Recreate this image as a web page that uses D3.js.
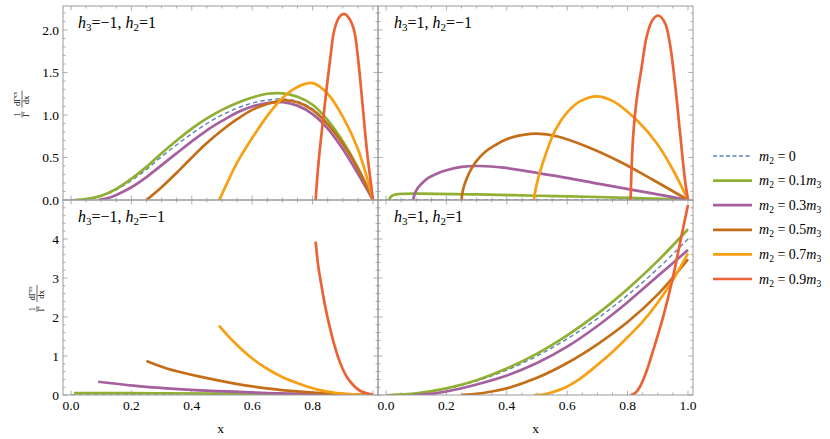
<!DOCTYPE html>
<html>
<head>
<meta charset="utf-8">
<script src="https://cdn.jsdelivr.net/npm/d3@7"></script>
<style>
  body { margin: 0; background: #fff; }
</style>
</head>
<body>
<script>
// ---- data ----
  var massLabels = ["0", "0.1", "0.3", "0.5", "0.7", "0.9"];
  var plotColors = ["#5E81B5", "#8FB032", "#A5609D", "#C56E1A", "#F89F13", "#EB6235"];
  var panelTitles = [["-1", "1"], ["1", "-1"], ["-1", "-1"], ["1", "1"]];
  var xTicks = [0, 0.2, 0.4, 0.6, 0.8, 1.0];
  var yTicksTop = [0, 0.5, 1, 1.5, 2];
  var yTicksBottom = [0, 1, 2, 3, 4];

  // h3=-1, h2=1
  var tl0 = [[0,0],[0.05,0.008],[0.1,0.045],[0.15,0.12],[0.2,0.23],[0.25,0.36],[0.3,0.51],[0.35,0.65],[0.4,0.78],[0.45,0.9],[0.5,1.0],[0.55,1.08],[0.6,1.14],[0.65,1.175],[0.7,1.19],[0.75,1.16],[0.8,1.07],[0.85,0.9],[0.9,0.66],[0.95,0.36],[1,0]];
  var tl1 = [[0.01,0],[0.05,0.01],[0.1,0.05],[0.15,0.13],[0.2,0.25],[0.25,0.39],[0.3,0.55],[0.35,0.7],[0.4,0.84],[0.45,0.96],[0.5,1.06],[0.55,1.14],[0.6,1.205],[0.65,1.25],[0.7,1.255],[0.75,1.215],[0.8,1.12],[0.85,0.94],[0.9,0.69],[0.95,0.38],[1,0]];
  var tl3 = [[0.09,0],[0.12,0.02],[0.15,0.06],[0.2,0.15],[0.25,0.27],[0.3,0.41],[0.35,0.55],[0.4,0.69],[0.45,0.82],[0.5,0.93],[0.55,1.03],[0.6,1.1],[0.65,1.14],[0.7,1.15],[0.75,1.11],[0.8,1.01],[0.85,0.84],[0.9,0.6],[0.95,0.31],[1,0]];
  var tl5 = [[0.25,0],[0.3,0.15],[0.35,0.32],[0.4,0.5],[0.45,0.67],[0.5,0.82],[0.55,0.95],[0.6,1.06],[0.65,1.13],[0.7,1.17],[0.75,1.15],[0.8,1.06],[0.85,0.89],[0.9,0.66],[0.95,0.37],[1,0]];
  var tl7 = [[0.49,0],[0.5,0.07],[0.55,0.44],[0.6,0.73],[0.65,0.99],[0.7,1.2],[0.75,1.33],[0.8,1.375],[0.85,1.25],[0.9,0.98],[0.95,0.6],[1,0]];
  var tl9 = [[0.81,0],[0.82,0.45],[0.835,0.95],[0.858,1.65],[0.872,2.0],[0.89,2.16],[0.905,2.19],[0.92,2.14],[0.937,2.0],[0.951,1.65],[0.966,1.1],[0.98,0.58],[1,0]];

  // h3=1, h2=-1
  var tr0 = [[0,0],[1,0]];
  var tr1 = [[0.01,0],[0.015,0.035],[0.025,0.06],[0.04,0.07],[0.1,0.075],[0.3,0.065],[0.5,0.05],[0.7,0.035],[0.85,0.02],[1,0]];
  var tr3 = [[0.09,0],[0.095,0.07],[0.105,0.14],[0.12,0.2],[0.14,0.26],[0.168,0.31],[0.2,0.35],[0.25,0.39],[0.311,0.4],[0.389,0.38],[0.499,0.32],[0.609,0.255],[0.72,0.18],[0.83,0.11],[0.94,0.04],[1,0]];
  var tr5 = [[0.25,0],[0.255,0.12],[0.267,0.25],[0.285,0.38],[0.3,0.46],[0.33,0.57],[0.355,0.63],[0.39,0.7],[0.42,0.74],[0.46,0.77],[0.499,0.78],[0.565,0.75],[0.664,0.63],[0.775,0.45],[0.885,0.235],[1,0]];
  var tr7 = [[0.49,0],[0.495,0.12],[0.51,0.33],[0.53,0.55],[0.56,0.82],[0.6,1.03],[0.642,1.16],[0.698,1.22],[0.753,1.16],[0.83,0.94],[0.896,0.67],[0.951,0.35],[1,0]];
  var tr9 = [[0.81,0],[0.813,0.35],[0.819,0.78],[0.83,1.18],[0.847,1.57],[0.863,1.92],[0.883,2.12],[0.902,2.17],[0.924,2.08],[0.94,1.84],[0.957,1.37],[0.974,0.78],[0.99,0.24],[1,0]];

  // h3=-1, h2=-1
  var bl0 = [[0,0],[1,0]];
  var bl1 = [[0.01,0.05],[0.3,0.045],[0.6,0.03],[0.9,0.01],[1,0]];
  var bl3 = [[0.09,0.34],[0.206,0.24],[0.317,0.17],[0.427,0.12],[0.538,0.085],[0.648,0.05],[0.758,0.03],[0.869,0.01],[1,0]];
  var bl5 = [[0.25,0.87],[0.317,0.68],[0.427,0.47],[0.538,0.3],[0.648,0.17],[0.758,0.085],[0.869,0.03],[1,0]];
  var bl7 = [[0.49,1.78],[0.538,1.37],[0.593,0.98],[0.648,0.68],[0.703,0.45],[0.758,0.28],[0.813,0.145],[0.869,0.06],[0.924,0.02],[1,0]];
  var bl9 = [[0.81,3.93],[0.819,3.29],[0.83,2.78],[0.841,2.3],[0.852,1.9],[0.869,1.37],[0.891,0.83],[0.913,0.47],[0.935,0.25],[0.957,0.11],[1,0]];

  // h3=1, h2=1
  var br0 = [[0,0],[0.1,0.04],[0.2,0.16],[0.3,0.36],[0.4,0.64],[0.5,1.0],[0.6,1.44],[0.7,1.96],[0.8,2.56],[0.9,3.24],[1,4.0]];
  var br1 = [[0.01,0],[0.1,0.045],[0.2,0.17],[0.3,0.38],[0.4,0.68],[0.5,1.06],[0.6,1.53],[0.7,2.08],[0.8,2.72],[0.9,3.44],[1,4.25]];
  var br3 = [[0.09,0],[0.15,0.03],[0.2,0.09],[0.3,0.27],[0.4,0.5],[0.5,0.82],[0.6,1.24],[0.7,1.77],[0.8,2.38],[0.9,3.05],[1,3.72]];
  var br5 = [[0.25,0],[0.3,0.03],[0.35,0.09],[0.4,0.17],[0.5,0.44],[0.6,0.82],[0.7,1.3],[0.8,1.87],[0.9,2.58],[1,3.48]];
  var br7 = [[0.49,0],[0.52,0.01],[0.55,0.07],[0.6,0.22],[0.65,0.46],[0.7,0.77],[0.75,1.1],[0.8,1.48],[0.85,1.88],[0.9,2.37],[0.95,2.95],[1,3.63]];
  var br9 = [[0.81,0],[0.825,0.05],[0.84,0.2],[0.86,0.55],[0.885,1.15],[0.918,2.01],[0.951,3.05],[0.975,3.95],[1,4.87]];
// --------------------------------------

// ---- layout ----
  var width_outer = 830;
  var height_outer = 439;
  var xDomain = [-0.0265, 1.0166];
  var panels = [
    {x0: 63,  y0: 6,   w: 315, h: 194, ymax: 2.282, series: [tl0, tl1, tl3, tl5, tl7, tl9], yTicks: yTicksTop, yMinor: 0.1, yFmt: d3.format(".1f"), left: true, bottom: false},
    {x0: 378, y0: 6,   w: 315, h: 194, ymax: 2.282, series: [tr0, tr1, tr3, tr5, tr7, tr9], yTicks: yTicksTop, yMinor: 0.1, yFmt: d3.format(".1f"), left: false, bottom: false},
    {x0: 63,  y0: 200, w: 315, h: 195, ymax: 5.0,   series: [bl0, bl1, bl3, bl5, bl7, bl9], yTicks: yTicksBottom, yMinor: 0.2, yFmt: d3.format("d"), left: true, bottom: true},
    {x0: 378, y0: 200, w: 315, h: 195, ymax: 5.0,   series: [br0, br1, br3, br5, br7, br9], yTicks: yTicksBottom, yMinor: 0.2, yFmt: d3.format("d"), left: false, bottom: true}
  ];
  var frameColor = "#9a9a9a";
  var lineWidth = 2.7;
// ----------------

// pick the first serif face that is really installed
function pickFont(cands) {
  var ctx = document.createElement("canvas").getContext("2d");
  var s = "mwiIl0.1234h=x";
  ctx.font = "40px monospace";
  var base = ctx.measureText(s).width;
  for (var i = 0; i < cands.length; i++) {
    ctx.font = "40px '" + cands[i] + "', monospace";
    if (Math.abs(ctx.measureText(s).width - base) > 0.5) return "'" + cands[i] + "'";
  }
  return "serif";
}
var serif = pickFont(["Liberation Serif", "Times New Roman", "Tinos", "DejaVu Serif", "Noto Serif"]) + ", serif";

var svg = d3.select("body").append("svg")
  .attr("width", width_outer)
  .attr("height", height_outer)
  .style("font-family", serif);

var defs = svg.append("defs");

panels.forEach(function(p, pi) {
  var x = d3.scaleLinear().domain(xDomain).range([p.x0, p.x0 + p.w]);
  var y = d3.scaleLinear().domain([0, p.ymax]).range([p.y0 + p.h, p.y0]);

  defs.append("clipPath").attr("id", "clip" + pi)
    .append("rect").attr("x", p.x0).attr("y", p.y0).attr("width", p.w).attr("height", p.h);

  var g = svg.append("g");

  // ticks on all four sides (inside)
  d3.range(0, 1.0001, 0.05).forEach(function(t) {
    var major = Math.abs(t / 0.2 - Math.round(t / 0.2)) < 1e-6;
    var len = major ? 4.5 : 2.5;
    g.append("line").attr("x1", x(t)).attr("x2", x(t))
      .attr("y1", p.y0 + p.h).attr("y2", p.y0 + p.h - len)
      .attr("stroke", frameColor).attr("stroke-width", 0.8);
    g.append("line").attr("x1", x(t)).attr("x2", x(t))
      .attr("y1", p.y0).attr("y2", p.y0 + len)
      .attr("stroke", frameColor).attr("stroke-width", 0.8);
  });
  var majorStep = p.yTicks[1] - p.yTicks[0];
  d3.range(0, p.ymax, p.yMinor).forEach(function(t) {
    var major = Math.abs(t / majorStep - Math.round(t / majorStep)) < 1e-6;
    var len = major ? 4.5 : 2.5;
    g.append("line").attr("x1", p.x0).attr("x2", p.x0 + len)
      .attr("y1", y(t)).attr("y2", y(t))
      .attr("stroke", frameColor).attr("stroke-width", 0.8);
    g.append("line").attr("x1", p.x0 + p.w).attr("x2", p.x0 + p.w - len)
      .attr("y1", y(t)).attr("y2", y(t))
      .attr("stroke", frameColor).attr("stroke-width", 0.8);
  });

  // curves
  var line = d3.line()
    .x(function(d) { return x(d[0]); })
    .y(function(d) { return y(d[1]); })
    .curve(d3.curveCatmullRom.alpha(0.5));

  var curves = g.append("g").attr("clip-path", "url(#clip" + pi + ")");
  p.series.forEach(function(s, i) {
    curves.append("path")
      .datum(s)
      .attr("d", line)
      .attr("fill", "none")
      .attr("stroke", plotColors[i])
      .attr("stroke-width", i == 0 ? 1.4 : lineWidth)
      .attr("stroke-dasharray", i == 0 ? "4.5,3" : null)
      .attr("stroke-linejoin", "round");
  });

  // frame
  g.append("rect")
    .attr("x", p.x0).attr("y", p.y0).attr("width", p.w).attr("height", p.h)
    .attr("fill", "none").attr("stroke", frameColor).attr("stroke-width", 1);

  // tick labels
  if (p.left) {
    g.selectAll(".ylab").data(p.yTicks).enter().append("text")
      .attr("x", p.x0 - 4)
      .attr("y", function(d) { return y(d); })
      .attr("dy", "0.35em")
      .attr("text-anchor", "end")
      .attr("font-size", 13.5)
      .text(p.yFmt);

    // y title: 1/Γ dΓ^cs/dx (rotated fraction)
    var cx = p.bottom ? 37 : 22;
    var yt = g.append("g")
      .attr("transform", "translate(" + cx + "," + (p.y0 + p.h / 2) + ") rotate(-90)")
      .attr("font-size", 8.5);
    yt.append("text").attr("x", -11.5).attr("y", -2.2).attr("text-anchor", "middle").text("1");
    yt.append("text").attr("x", -11.5).attr("y", 7.2).attr("text-anchor", "middle").text("Γ");
    yt.append("line").attr("x1", -14.5).attr("x2", -8.5).attr("y1", 0).attr("y2", 0).attr("stroke", "#000").attr("stroke-width", 0.6);
    var num = yt.append("text").attr("x", 4).attr("y", -2.2).attr("text-anchor", "middle");
    num.append("tspan").text("dΓ");
    num.append("tspan").attr("font-size", 6).attr("dy", -3).text("cs");
    yt.append("text").attr("x", 3).attr("y", 7.2).attr("text-anchor", "middle").text("dx");
    yt.append("line").attr("x1", -4.5).attr("x2", 12.5).attr("y1", 0).attr("y2", 0).attr("stroke", "#000").attr("stroke-width", 0.6);
  }
  if (p.bottom) {
    var xLabTicks = p.left ? xTicks.slice(0, 5) : xTicks;
    g.selectAll(".xlab").data(xLabTicks).enter().append("text")
      .attr("x", function(d) { return x(d); })
      .attr("y", p.y0 + p.h + 15)
      .attr("text-anchor", "middle")
      .attr("font-size", 13.5)
      .text(d3.format(".1f"));
    g.append("text")
      .attr("x", p.x0 + p.w / 2)
      .attr("y", 433)
      .attr("text-anchor", "middle")
      .attr("font-size", 13.5)
      .text("x");
  }

  // panel title
  var t = g.append("text")
    .attr("x", p.x0 + (p.left ? 15 : 16))
    .attr("y", p.y0 + 22)
    .attr("font-size", 16);
  t.append("tspan").attr("font-style", "italic").text("h");
  t.append("tspan").attr("font-size", 11).attr("dy", 3).text("3");
  t.append("tspan").attr("dy", -3).text("=" + panelTitles[pi][0].replace("-", "\u2212") + ", ");
  t.append("tspan").attr("font-style", "italic").text("h");
  t.append("tspan").attr("font-size", 11).attr("dy", 3).text("2");
  t.append("tspan").attr("dy", -3).text("=" + panelTitles[pi][1].replace("-", "\u2212"));
});

// ---- legend ----
var legend = svg.append("g").attr("transform", "translate(713,156)");
massLabels.forEach(function(m, i) {
  var row = legend.append("g").attr("transform", "translate(0," + (i * 24.6) + ")");
  row.append("line")
    .attr("x1", 0).attr("x2", 39).attr("y1", 0).attr("y2", 0)
    .attr("stroke", plotColors[i])
    .attr("stroke-width", i == 0 ? 1.4 : lineWidth)
    .attr("stroke-dasharray", i == 0 ? "4,2.5" : null);
  var txt = row.append("text").attr("x", 46).attr("y", 4.5).attr("font-size", 14);
  txt.append("tspan").attr("font-style", "italic").text("m");
  txt.append("tspan").attr("font-size", 9.5).attr("dy", 3).text("2");
  txt.append("tspan").attr("dy", -3).text(" = " + m);
  if (i > 0) {
    txt.append("tspan").attr("font-style", "italic").text("m");
    txt.append("tspan").attr("font-size", 9.5).attr("dy", 3).text("3");
  }
});
</script>
</body>
</html>
